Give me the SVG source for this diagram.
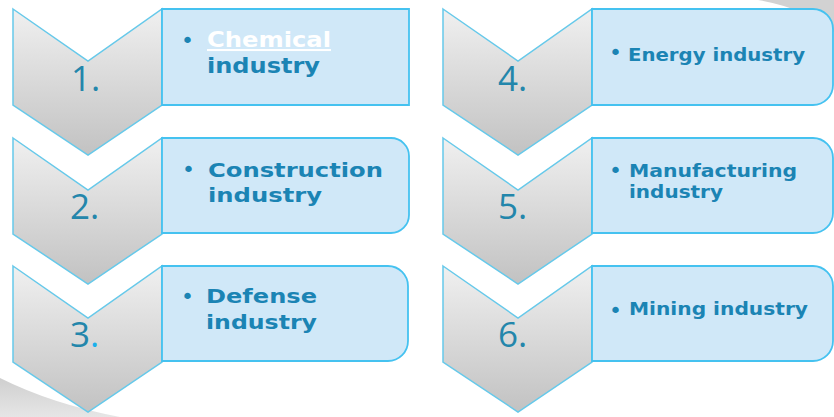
<svg xmlns="http://www.w3.org/2000/svg" width="834" height="417" viewBox="0 0 834 417">
  <defs>
    <linearGradient id="chevFill" x1="0" y1="0" x2="0" y2="1">
      <stop offset="0" stop-color="#f0f0f0"/>
      <stop offset="1" stop-color="#c2c2c2"/>
    </linearGradient>
    <linearGradient id="arcFill" x1="0" y1="0" x2="0" y2="1">
      <stop offset="0" stop-color="#cfcfcf"/>
      <stop offset="1" stop-color="#e6e6e6"/>
    </linearGradient>
    <!-- chevron outline, origin at its top-left corner -->
    <path id="chev" d="M0 0 L75 52 L149 0 L149 96 L75 146 L0 96 Z"/>
  </defs>
  <style>
    .chev { fill: url(#chevFill); stroke: #66c9ea; stroke-width: 1.5; stroke-linejoin: miter; }
    .box { fill: #d0e8f8; stroke: #45c2f0; stroke-width: 1.8; }
    .num { font-family: "Open Sans", "Liberation Sans", sans-serif; font-size: 35px; fill: #2386ab; }
    .lbl { font-family: "DejaVu Sans", "Liberation Sans", sans-serif; font-weight: bold; fill: #1b84b4; }
    .bul { font-family: "DejaVu Sans", sans-serif; font-size: 22px; fill: #1b84b4; }
    .link { fill: #ffffff; text-decoration: underline; }
  </style>

  <rect width="834" height="417" fill="#ffffff"/>

  <!-- soft grey ring segments in the corners -->
  <path d="M758 0 Q805 8 834 32 L834 0 Z" fill="#d2d2d2"/>
  <path d="M0 378 Q52 404 120 417 L0 417 Z" fill="url(#arcFill)"/>

  <g id="step1">
    <use href="#chev" class="chev" x="13" y="9"/>
    <path class="box" d="M162 9 H409 V105 H162 Z"/>
    <text class="num" x="71" y="91">1.</text>
    <text class="bul" x="181" y="48">•</text>
    <text class="lbl link" x="207" y="47" font-size="20.5" textLength="124" lengthAdjust="spacingAndGlyphs">Chemical</text>
    <text class="lbl" x="207" y="73" font-size="20.5" textLength="113" lengthAdjust="spacingAndGlyphs">industry</text>
  </g>

  <g id="step2">
    <use href="#chev" class="chev" x="13" y="138"/>
    <path class="box" d="M162 138 H391 A18 18 0 0 1 409 156 V215 A18 18 0 0 1 391 233 H162 Z"/>
    <text class="num" x="70" y="219">2.</text>
    <text class="bul" x="182" y="177">•</text>
    <text class="lbl" x="208" y="177" font-size="19" textLength="175" lengthAdjust="spacingAndGlyphs">Construction</text>
    <text class="lbl" x="208" y="202" font-size="19" textLength="114" lengthAdjust="spacingAndGlyphs">industry</text>
  </g>

  <g id="step3">
    <use href="#chev" class="chev" x="13" y="266"/>
    <path class="box" d="M162 266 H388 A20 20 0 0 1 408 286 V341 A20 20 0 0 1 388 361 H162 Z"/>
    <text class="num" x="70" y="347">3<tspan fill="#1ab0ec">.</tspan></text>
    <text class="bul" x="181" y="304">•</text>
    <text class="lbl" x="206" y="303" font-size="19" textLength="111" lengthAdjust="spacingAndGlyphs">Defense</text>
    <text class="lbl" x="206" y="329" font-size="19" textLength="111" lengthAdjust="spacingAndGlyphs">industry</text>
  </g>

  <g id="step4">
    <use href="#chev" class="chev" x="443" y="9"/>
    <path class="box" d="M592 9 H813 A20 20 0 0 1 833 29 V85 A20 20 0 0 1 813 105 H592 Z"/>
    <text class="num" x="498" y="91">4.</text>
    <text class="bul" x="609" y="60">•</text>
    <text class="lbl" x="628" y="61" font-size="17.5" textLength="177" lengthAdjust="spacingAndGlyphs">Energy industry</text>
  </g>

  <g id="step5">
    <use href="#chev" class="chev" x="443" y="138"/>
    <path class="box" d="M592 138 H813 A20 20 0 0 1 833 158 V213 A20 20 0 0 1 813 233 H592 Z"/>
    <text class="num" x="498" y="219">5.</text>
    <text class="bul" x="609" y="178">•</text>
    <text class="lbl" x="629" y="177" font-size="17" textLength="168" lengthAdjust="spacingAndGlyphs">Manufacturing</text>
    <text class="lbl" x="629" y="198" font-size="17" textLength="94" lengthAdjust="spacingAndGlyphs">industry</text>
  </g>

  <g id="step6">
    <use href="#chev" class="chev" x="443" y="266"/>
    <path class="box" d="M592 266 H813 A20 20 0 0 1 833 286 V341 A20 20 0 0 1 813 361 H592 Z"/>
    <text class="num" x="498" y="347">6.</text>
    <text class="bul" x="609" y="318">•</text>
    <text class="lbl" x="629" y="315" font-size="17.5" textLength="179" lengthAdjust="spacingAndGlyphs">Mining industry</text>
  </g>
</svg>
